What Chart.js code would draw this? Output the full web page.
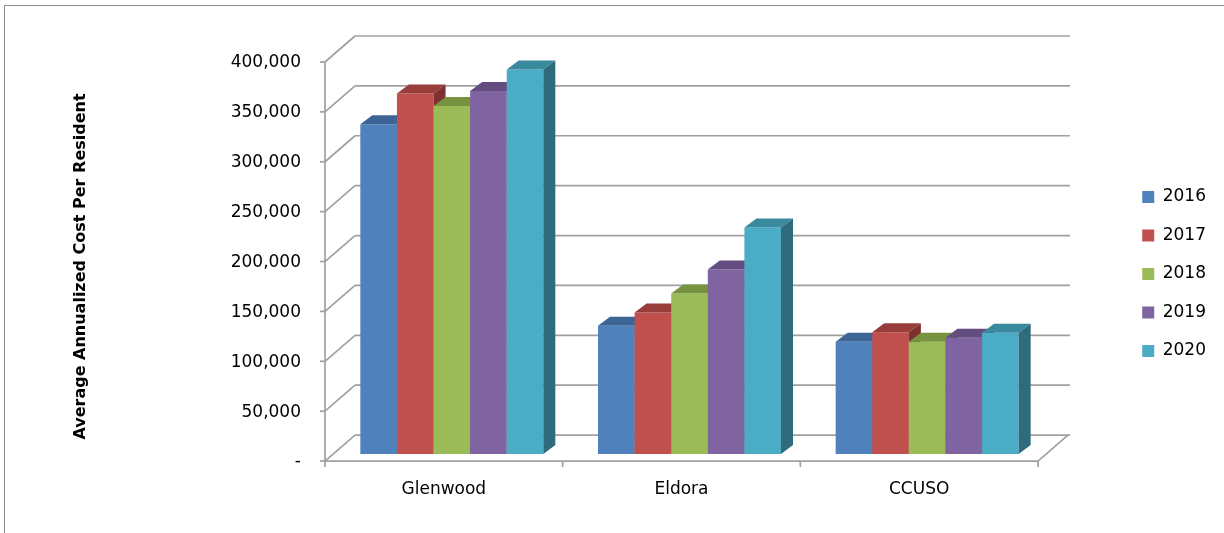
<!DOCTYPE html>
<html>
<head>
<meta charset="utf-8">
<script src="https://cdn.jsdelivr.net/npm/chart.js@4.4.1/dist/chart.umd.min.js"></script>
<style>
html,body{margin:0;padding:0;background:#ffffff;}
#wrap{position:relative;width:1224px;height:533px;}
canvas{display:block;}
</style>
</head>
<body>
<div id="wrap"><canvas id="c" width="1224" height="533"></canvas></div>
<script>
// ---- data ----
const categories = ['Glenwood', 'Eldora', 'CCUSO'];
const seriesNames = ['2016', '2017', '2018', '2019', '2020'];
const values2016 = [330500, 128500, 112500];
const values2017 = [361500, 142000, 122000];
const values2018 = [349000, 161000, 112500];
const values2019 = [364000, 185000, 116500];
const values2020 = [385500, 227000, 121500];
const yTickValues = [0, 50000, 100000, 150000, 200000, 250000, 300000, 350000, 400000];
const yAxisTitle = 'Average Annualized Cost Per Resident';

// ---- styles / axis range ----
const Y_MIN = -24000;   // room below the floor so the axis title centres on the plot like the original
const Y_MAX = 400000;
const frontColors = ['#4F81BD', '#C0504D', '#9BBB59', '#8064A2', '#4BACC6'];
const topColors   = ['#3C6496', '#983D3A', '#78933F', '#634C80', '#3A8A9F'];
const sideColors  = ['#30507A', '#7E3230', '#62782F', '#513E69', '#2E6C7D'];
const FONT = 'DejaVu Sans';
const GRID = '#a0a0a0';
const FRONT = {dx: -8, dy: 7};
const BACK = {dx: 22, dy: -19};
const DEPTH = {dx: 12, dy: 9};

const seriesValues = [values2016, values2017, values2018, values2019, values2020];

function line(ctx, x1, y1, x2, y2) {
  ctx.beginPath(); ctx.moveTo(x1, y1); ctx.lineTo(x2, y2); ctx.stroke();
}
function poly(ctx, pts, color) {
  ctx.beginPath();
  ctx.moveTo(pts[0][0], pts[0][1]);
  for (let i = 1; i < pts.length; i++) ctx.lineTo(pts[i][0], pts[i][1]);
  ctx.closePath();
  ctx.fillStyle = color;
  ctx.fill();
}

const threeD = {
  id: 'threeD',
  beforeDraw(chart) {
    const ctx = chart.ctx;
    ctx.save();
    ctx.strokeStyle = '#8c8c8c';
    ctx.lineWidth = 1;
    ctx.strokeRect(4.5, 5.5, 1400, 1000);
    ctx.restore();
  },
  beforeDatasetsDraw(chart) {
    const {ctx, chartArea: a, scales} = chart;
    const x = scales.x, y = scales.y;
    ctx.save();
    ctx.strokeStyle = GRID;
    ctx.lineWidth = 1.7;
    const vals = y.ticks.map(t => t.value);
    vals.forEach(v => {
      const py = y.getPixelForValue(v);
      const fx = a.left + FRONT.dx, fy = py + FRONT.dy;
      const bx = a.left + BACK.dx, by = py + BACK.dy;
      line(ctx, fx - 5, fy, fx, fy);
      line(ctx, fx, fy, bx, by);
      line(ctx, bx, by, a.right + BACK.dx + 2, by);
    });
    const yTop = y.getPixelForValue(Y_MAX), y0 = y.getPixelForValue(0);
    line(ctx, a.left + FRONT.dx, yTop + FRONT.dy, a.left + FRONT.dx, y0 + FRONT.dy);
    // floor
    line(ctx, a.left + FRONT.dx, y0 + FRONT.dy, a.right + FRONT.dx, y0 + FRONT.dy);
    line(ctx, a.right + FRONT.dx, y0 + FRONT.dy, a.right + BACK.dx, y0 + BACK.dy);
    // category ticks
    const n = x.getLabels().length;
    const w = (a.right - a.left) / n;
    for (let k = 0; k <= n; k++) {
      const px = a.left + k * w + FRONT.dx;
      line(ctx, px, y0 + FRONT.dy, px, y0 + FRONT.dy + 6);
    }
    ctx.restore();
  },
  beforeDatasetDraw() { return false; },
  afterDatasetsDraw(chart) {
    const ctx = chart.ctx;
    ctx.save();
    chart.data.datasets.forEach((ds, i) => {
      const meta = chart.getDatasetMeta(i);
      if (meta.hidden) return;
      meta.data.forEach(bar => {
        const cx = bar.x, top = bar.y, base = bar.base, width = bar.width;
        const l = cx - width / 2, r = cx + width / 2;
        poly(ctx, [[l, top], [r, top], [r, base], [l, base]], frontColors[i]);
        poly(ctx, [[l, top], [r, top], [r + DEPTH.dx, top - DEPTH.dy], [l + DEPTH.dx, top - DEPTH.dy]], topColors[i]);
        poly(ctx, [[r, top], [r + DEPTH.dx, top - DEPTH.dy], [r + DEPTH.dx, base - DEPTH.dy], [r, base]], sideColors[i]);
      });
    });
    ctx.restore();
  }
};

const chart = new Chart(document.getElementById('c'), {
  type: 'bar',
  data: {
    labels: categories,
    datasets: seriesNames.map((name, i) => ({
      label: name,
      data: seriesValues[i],
      backgroundColor: frontColors[i],
      borderWidth: 0,
      categoryPercentage: 0.77,
      barPercentage: 1.0
    }))
  },
  options: {
    responsive: false,
    devicePixelRatio: 1,
    animation: false,
    layout: {padding: {top: 15, bottom: 0, left: 0, right: 8}},
    plugins: {
      tooltip: {enabled: false},
      legend: {
        position: 'right',
        align: 'center',
        labels: {
          boxWidth: 12, boxHeight: 12, padding: 21.5,
          color: '#000000',
          font: {family: FONT, size: 17}
        }
      }
    },
    scales: {
      x: {
        type: 'category',
        offset: true,
        grid: {display: false, drawTicks: false},
        border: {display: false},
        ticks: {
          color: '#000000', font: {family: FONT, size: 17},
          padding: 1, labelOffset: FRONT.dx, maxRotation: 0, autoSkip: false
        },
        afterFit(s) { s.height = 55; }
      },
      xTop: {
        type: 'category',
        position: 'top',
        display: true,
        grid: {display: false, drawTicks: false},
        border: {display: false},
        ticks: {display: false},
        afterFit(s) { s.height = 40; }
      },
      y: {
        position: 'left',
        min: Y_MIN, max: Y_MAX,
        grid: {display: false, drawTicks: false},
        border: {display: false},
        afterBuildTicks(s) { s.ticks = yTickValues.map(v => ({value: v})); },
        ticks: {
          color: '#000000', font: {family: FONT, size: 17},
          padding: 32, labelOffset: 8,
          callback: v => v === 0 ? '-' : Number(v).toLocaleString('en-US')
        },
        title: {
          display: true, text: yAxisTitle, color: '#000000',
          font: {family: FONT, size: 16, weight: 'bold'},
          padding: {top: 71, bottom: 0}
        },
        afterFit(s) { s.width = 333; }
      },
      yR: {
        position: 'right',
        display: true,
        grid: {display: false, drawTicks: false},
        border: {display: false},
        ticks: {display: false},
        afterFit(s) {
          const lw = s.chart.legend ? s.chart.legend.width : 95;
          s.width = Math.max(0, s.chart.width - 8 - lw - 1046);
        }
      }
    }
  },
  plugins: [threeD]
});
</script>
</body>
</html>
